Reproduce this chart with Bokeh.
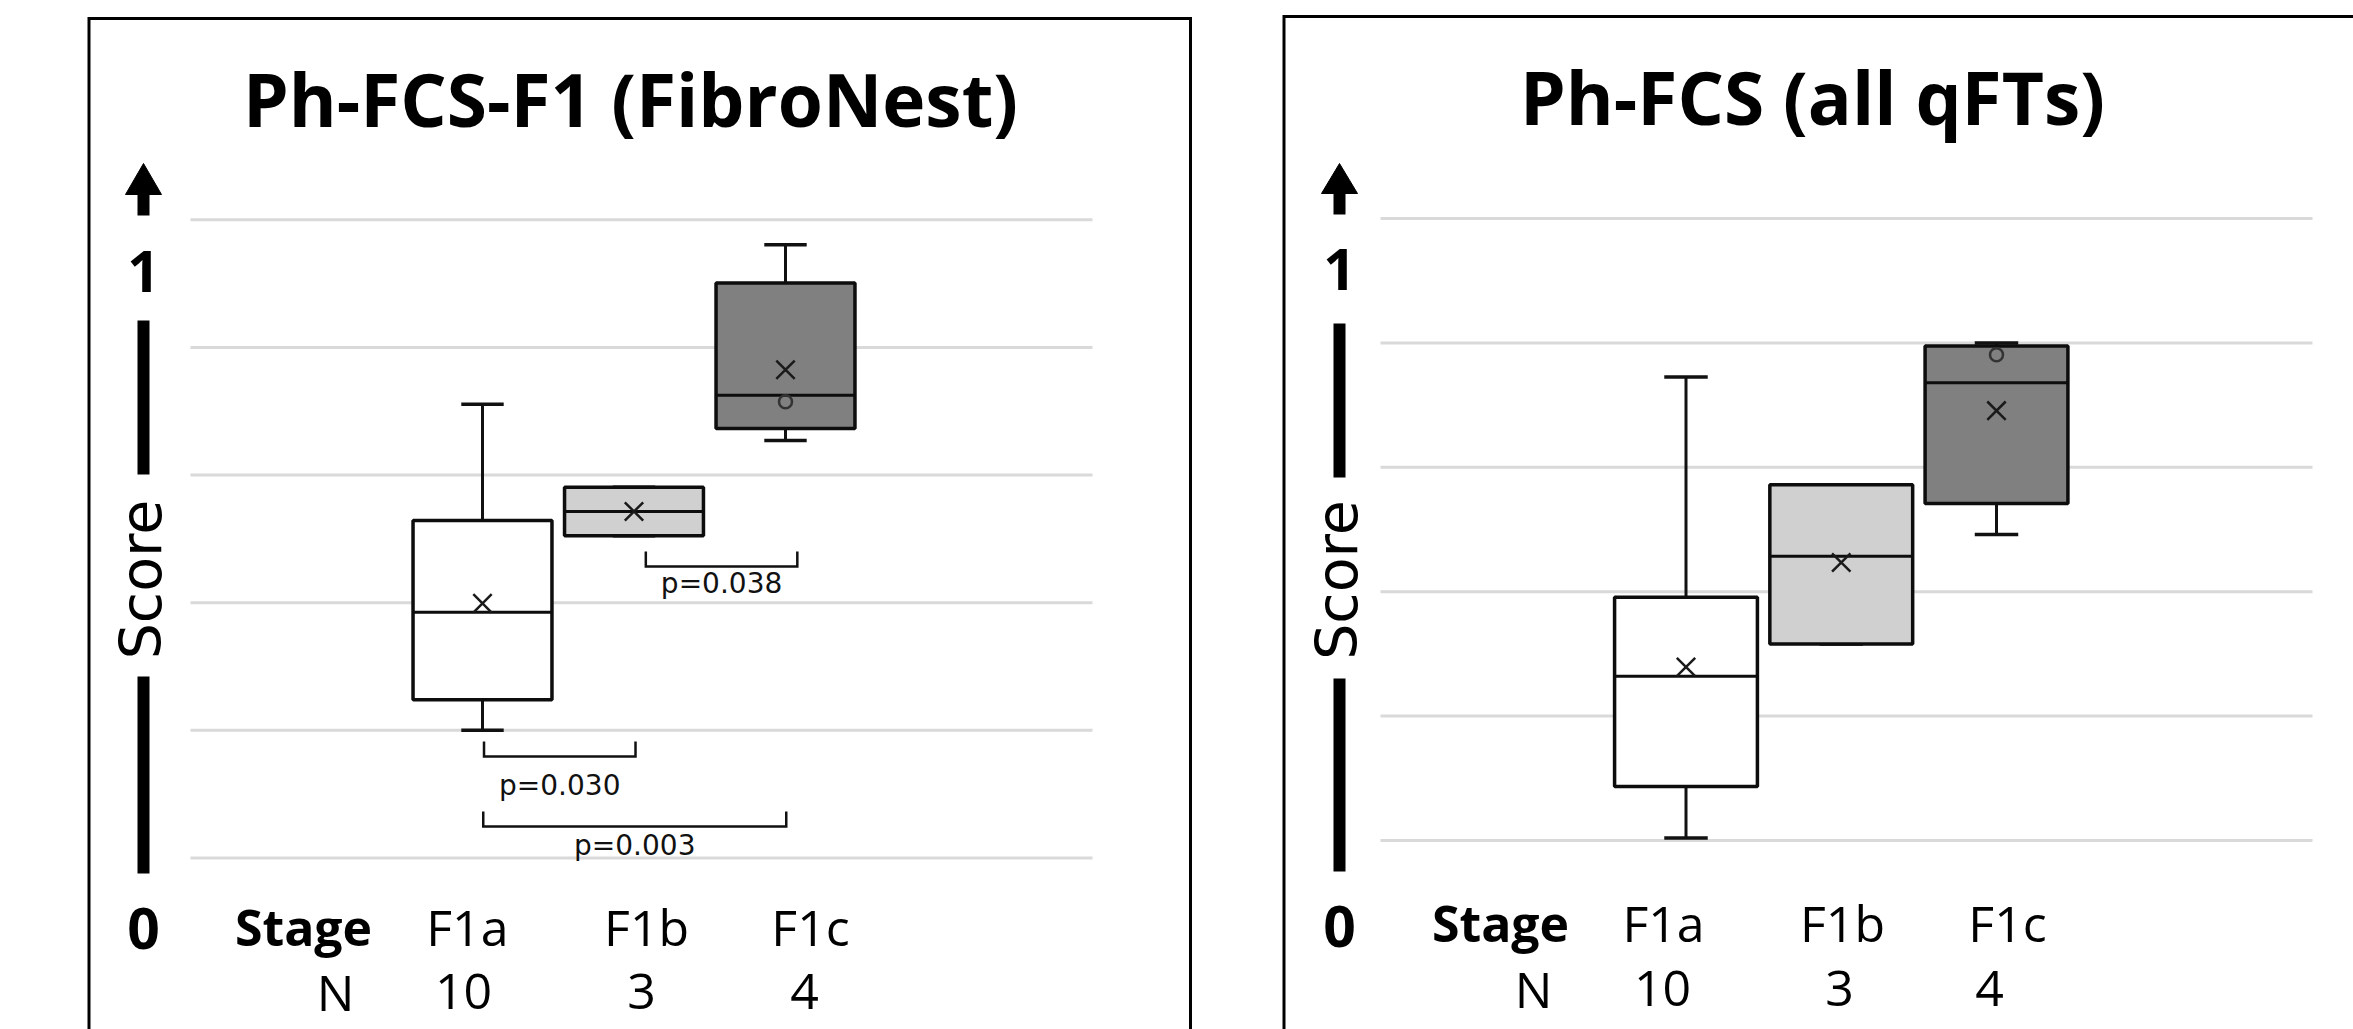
import numpy as np
from bokeh.plotting import figure
from bokeh.layouts import row
from bokeh.models import Range1d
from bokeh.core.properties import value
from bokeh.embed import file_html
from bokeh.resources import INLINE

# ---------------- data ----------------
stages = ["F1a", "F1b", "F1c"]
n_counts = ["10", "3", "4"]
grid_values = [0.0, 0.2, 0.4, 0.6, 0.8, 1.0]

# Panel 1: Ph-FCS-F1 (FibroNest)
fn_title = "Ph-FCS-F1 (FibroNest)"
fn_whisker_low = [0.200, 0.505, 0.654]
fn_q1 = [0.248, 0.505, 0.673]
fn_median = [0.385, 0.543, 0.725]
fn_q3 = [0.529, 0.581, 0.901]
fn_whisker_high = [0.711, 0.581, 0.961]
fn_mean = [0.399, 0.543, 0.765]
fn_point_stage = ["F1c"]
fn_point_value = [0.715]
fn_pairs = [("F1b", "F1c"), ("F1a", "F1b"), ("F1a", "F1c")]
fn_pvalues = ["p=0.038", "p=0.030", "p=0.003"]

# Panel 2: Ph-FCS (all qFTs)
all_title = "Ph-FCS (all qFTs)"
all_whisker_low = [0.004, 0.316, 0.492]
all_q1 = [0.087, 0.316, 0.542]
all_median = [0.264, 0.457, 0.736]
all_q3 = [0.391, 0.572, 0.795]
all_whisker_high = [0.745, 0.572, 0.800]
all_mean = [0.279, 0.447, 0.691]
all_point_stage = ["F1c"]
all_point_value = [0.781]
all_pairs = []
all_pvalues = []

# ---------------- styles / layout ----------------
box_fills = ["#ffffff", "#d0d0d0", "#808080"]
CANVAS_TOP = 0
CANVAS_H = 1029
TEXT_DROP = 0.34   # em correction between requested baseline and rendered baseline

LEFT = dict(
    canvas_left=0, canvas_width=1240,
    cat1_px=482.0, cat_px=151.5, zero_px=857.5, unit_px=638.2,
    box_width=0.917, cap_width=0.28,
    grid_px=(190, 1092),
    frame_left=88.5, frame_top=18, frame_right=1190,
    title_px=(630, 123),
    axis_x=143, arrow=(163, 194, 215), one_base=290, zero_base=947,
    bars=[(320, 474), (676, 873)], score=(160, 579),
    stage_px=(303, 943), n_px=(335, 1008),
    label_shift=[-0.10, 0.083, 0.165], n_shift=[-0.125, 0.05, 0.125],
    bracket_shift=[0.078, 0.01, 0.005],
    bracket_px=[566, 756, 826], text_px=[593, 795, 855],
)
RIGHT = dict(
    canvas_left=1240, canvas_width=1113,
    cat1_px=1685.5, cat_px=155.25, zero_px=840.0, unit_px=622.0,
    box_width=0.92, cap_width=0.28,
    grid_px=(1380, 2312),
    frame_left=1283.5, frame_top=16, frame_right=None,
    title_px=(1812, 121),
    axis_x=1339, arrow=(163, 193, 214), one_base=288, zero_base=945,
    bars=[(323, 477), (678, 871)], score=(1356, 579.5),
    stage_px=(1500, 939), n_px=(1533, 1005),
    label_shift=[-0.145, 0.008, 0.071], n_shift=[-0.151, -0.011, -0.045],
    bracket_shift=[], bracket_px=[], text_px=[],
)


def build_panel(L, title, wlo, q1, med, q3, whi, mean, pt_stage, pt_val, pairs, pvals):
    X = lambda px: 1 + (px - L["cat1_px"]) / L["cat_px"]
    Y = lambda py: (L["zero_px"] - py) / L["unit_px"]
    TB = lambda py, size: Y(py - TEXT_DROP * size)      # text baseline
    TBx = lambda px, size: X(px - TEXT_DROP * size)     # rotated text baseline

    p = figure(width=L["canvas_width"], height=CANVAS_H,
               x_range=Range1d(X(L["canvas_left"]), X(L["canvas_left"] + L["canvas_width"])),
               y_range=Range1d(Y(CANVAS_TOP + CANVAS_H), Y(CANVAS_TOP)),
               x_axis_type=None, y_axis_type=None, toolbar_location=None,
               output_backend="svg", min_border=0)
    p.outline_line_color = None
    p.background_fill_color = "white"
    p.border_fill_color = "white"

    pos = [i + 1 for i in range(len(stages))]
    idx = {s: i for i, s in enumerate(stages)}

    # panel frame (cut off by the page edges)
    fr = L["frame_right"] if L["frame_right"] is not None else 5000
    p.line(x=[X(L["frame_left"]), X(L["frame_left"]), X(fr), X(fr)],
           y=[Y(3000), Y(L["frame_top"]), Y(L["frame_top"]), Y(3000)],
           line_color="black", line_width=3, line_join="miter")

    # gridlines
    g0, g1 = L["grid_px"]
    p.segment(x0=[X(g0)] * len(grid_values), x1=[X(g1)] * len(grid_values),
              y0=grid_values, y1=grid_values, line_color="#d9d9d9", line_width=3)

    # title
    tx, ty = L["title_px"]
    p.text(x=[X(tx)], y=[TB(ty, 73)], text=[title], text_font=value("Open Sans"),
           text_font_style="bold", text_font_size="73px", text_align="center",
           text_baseline="alphabetic", text_color="black")

    # decorative score axis
    ax = L["axis_x"]
    tip, base, sb = L["arrow"]
    p.patch(x=[X(ax - 18), X(ax), X(ax + 18)], y=[Y(base), Y(tip), Y(base)],
            fill_color="black", line_color="black", line_width=1)
    p.quad(left=[X(ax - 6)], right=[X(ax + 6)], top=[Y(base)], bottom=[Y(sb)],
           fill_color="black", line_color=None)
    for (a, b) in L["bars"]:
        p.quad(left=[X(ax - 6)], right=[X(ax + 6)], top=[Y(a)], bottom=[Y(b)],
               fill_color="black", line_color=None)
    p.text(x=[X(ax), X(ax)], y=[TB(L["one_base"], 57), TB(L["zero_base"], 57)], text=["1", "0"],
           text_font=value("Open Sans"), text_font_style="bold", text_font_size="57px",
           text_align="center", text_baseline="alphabetic", text_color="black")
    sx, sy = L["score"]
    p.text(x=[TBx(sx, 57)], y=[Y(sy)], text=["Score"], angle=np.pi / 2,
           text_font=value("DejaVu Sans"), text_font_size="57px",
           text_align="center", text_baseline="alphabetic", text_color="black")

    # stage / N rows
    stx, sty = L["stage_px"]
    p.text(x=[X(stx)], y=[TB(sty, 50)], text=["Stage"], text_font=value("Open Sans"),
           text_font_style="bold", text_font_size="50px", text_align="center",
           text_baseline="alphabetic", text_color="black")
    p.text(x=[pos[i] + L["label_shift"][i] for i in range(3)], y=[TB(sty, 50)] * 3, text=stages,
           text_font=value("Open Sans"), text_font_size="50px", text_align="center",
           text_baseline="alphabetic", text_color="black")
    nx, ny = L["n_px"]
    p.text(x=[X(nx)], y=[TB(ny, 50)], text=["N"], text_font=value("Open Sans"),
           text_font_size="50px", text_align="center", text_baseline="alphabetic",
           text_color="black")
    p.text(x=[pos[i] + L["n_shift"][i] for i in range(3)], y=[TB(ny, 50)] * 3, text=n_counts,
           text_font=value("Open Sans"), text_font_size="50px", text_align="center",
           text_baseline="alphabetic", text_color="black")

    # box plots
    bw, cw = L["box_width"], L["cap_width"]
    p.segment(x0=pos, x1=pos, y0=q3, y1=whi, line_color="#111111", line_width=3)
    p.segment(x0=pos, x1=pos, y0=q1, y1=wlo, line_color="#111111", line_width=3)
    p.segment(x0=[v - cw / 2 for v in pos], x1=[v + cw / 2 for v in pos], y0=whi, y1=whi,
              line_color="#111111", line_width=3.5)
    p.segment(x0=[v - cw / 2 for v in pos], x1=[v + cw / 2 for v in pos], y0=wlo, y1=wlo,
              line_color="#111111", line_width=3.5)
    p.vbar(x=pos, width=bw, bottom=q1, top=q3, fill_color=box_fills,
           line_color="#0d0d0d", line_width=3.5)
    p.segment(x0=[v - bw / 2 for v in pos], x1=[v + bw / 2 for v in pos], y0=med, y1=med,
              line_color="#0d0d0d", line_width=3)
    p.scatter(x=[pos[idx[s]] for s in pt_stage], y=pt_val, marker="circle", size=13,
              fill_color=None, line_color="#333333", line_width=2.5)
    p.scatter(x=pos, y=mean, marker="x", size=26, line_color="#1a1a1a", line_width=2.5)

    # significance brackets
    for k, ((a, b), txt) in enumerate(zip(pairs, pvals)):
        sh = L["bracket_shift"][k]
        xa, xb = pos[idx[a]] + sh, pos[idx[b]] + sh
        yl = Y(L["bracket_px"][k])
        yt = Y(L["bracket_px"][k] - 15)
        p.line(x=[xa, xa, xb, xb], y=[yt, yl, yl, yt], line_color="#111111",
               line_width=2.5, line_join="miter")
        p.text(x=[(xa + xb) / 2], y=[TB(L["text_px"][k], 28)], text=[txt],
               text_font=value("DejaVu Sans"), text_font_size="28px",
               text_align="center", text_baseline="alphabetic", text_color="#111111")
    return p


p1 = build_panel(LEFT, fn_title, fn_whisker_low, fn_q1, fn_median, fn_q3, fn_whisker_high,
                 fn_mean, fn_point_stage, fn_point_value, fn_pairs, fn_pvalues)
p2 = build_panel(RIGHT, all_title, all_whisker_low, all_q1, all_median, all_q3,
                 all_whisker_high, all_mean, all_point_stage, all_point_value,
                 all_pairs, all_pvalues)

layout = row(p1, p2)
open("out.html", "w").write(file_html(layout, INLINE))
